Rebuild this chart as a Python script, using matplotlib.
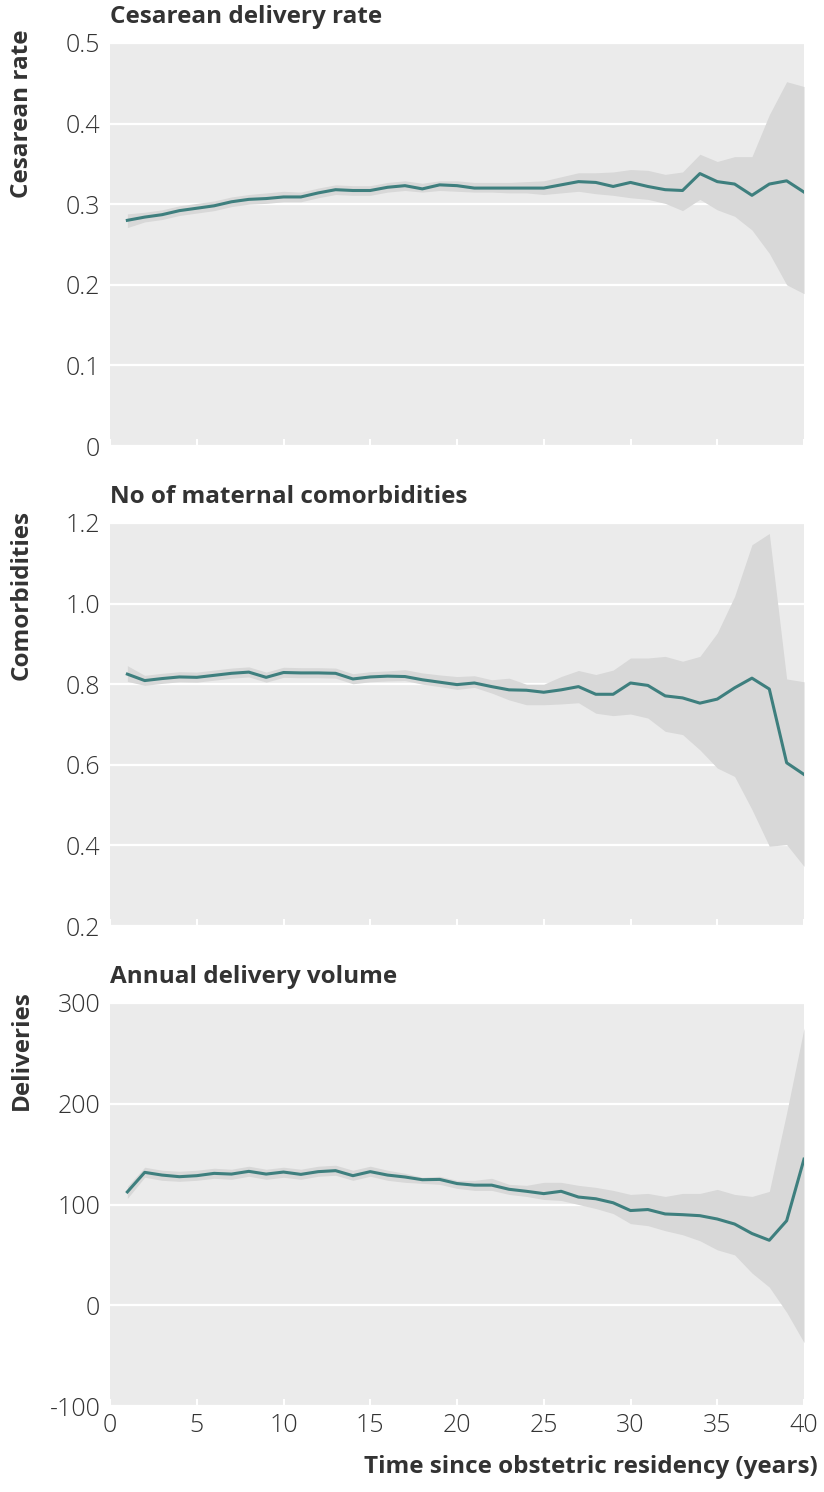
"""Cesarean rate, comorbidities and delivery volume by time since residency."""

import matplotlib.pyplot as plt
import numpy as np

plt.rcParams.update({'font.family': ['Open Sans', 'DejaVu Sans']})

years = np.arange(1, 41)

cesarean = [0.280, 0.284, 0.287, 0.292, 0.295, 0.298, 0.303, 0.306, 0.307, 0.309,
            0.309, 0.314, 0.318, 0.317, 0.317, 0.321, 0.323, 0.319, 0.324, 0.323,
            0.320, 0.320, 0.320, 0.320, 0.320, 0.324, 0.328, 0.327, 0.322, 0.327,
            0.322, 0.318, 0.317, 0.338, 0.328, 0.325, 0.311, 0.325, 0.329, 0.315]
cesarean_lo = [0.271, 0.278, 0.281, 0.286, 0.289, 0.292, 0.297, 0.300, 0.301, 0.303,
               0.303, 0.308, 0.312, 0.311, 0.311, 0.315, 0.317, 0.315, 0.317, 0.316,
               0.315, 0.315, 0.314, 0.314, 0.312, 0.314, 0.316, 0.313, 0.311, 0.308,
               0.306, 0.301, 0.292, 0.306, 0.293, 0.285, 0.268, 0.239, 0.200, 0.189]
cesarean_hi = [0.288, 0.290, 0.293, 0.298, 0.301, 0.304, 0.309, 0.312, 0.314, 0.316,
               0.315, 0.320, 0.324, 0.323, 0.323, 0.327, 0.329, 0.326, 0.329, 0.329,
               0.327, 0.327, 0.327, 0.328, 0.329, 0.334, 0.339, 0.339, 0.340, 0.343,
               0.342, 0.337, 0.340, 0.362, 0.353, 0.359, 0.359, 0.411, 0.452, 0.446]

comorb = [0.825, 0.809, 0.814, 0.818, 0.817, 0.822, 0.827, 0.830, 0.817, 0.829,
          0.828, 0.828, 0.827, 0.813, 0.818, 0.820, 0.819, 0.811, 0.805, 0.799,
          0.803, 0.794, 0.786, 0.785, 0.780, 0.786, 0.794, 0.775, 0.775, 0.803,
          0.797, 0.771, 0.766, 0.753, 0.763, 0.791, 0.815, 0.788, 0.605, 0.576]
comorb_lo = [0.807, 0.797, 0.802, 0.806, 0.805, 0.810, 0.815, 0.818, 0.805, 0.817,
             0.816, 0.816, 0.815, 0.801, 0.806, 0.808, 0.809, 0.800, 0.794, 0.787,
             0.792, 0.778, 0.761, 0.749, 0.749, 0.751, 0.754, 0.728, 0.722, 0.726,
             0.716, 0.683, 0.675, 0.637, 0.592, 0.571, 0.489, 0.398, 0.402, 0.348]
comorb_hi = [0.846, 0.822, 0.827, 0.831, 0.830, 0.835, 0.840, 0.843, 0.830, 0.842,
             0.841, 0.841, 0.840, 0.826, 0.831, 0.833, 0.836, 0.828, 0.823, 0.819,
             0.821, 0.811, 0.815, 0.800, 0.800, 0.819, 0.834, 0.824, 0.835, 0.865,
             0.865, 0.869, 0.857, 0.869, 0.927, 1.018, 1.146, 1.174, 0.813, 0.806]

volume = [112.5, 131.9, 129.2, 127.6, 128.6, 130.9, 130.2, 132.9, 130.2, 132.2,
          129.9, 132.6, 133.6, 128.6, 132.6, 129.2, 127.3, 124.6, 124.9, 120.8,
          119.2, 119.2, 115.1, 113.1, 110.8, 113.1, 107.4, 105.7, 101.7, 94.0,
          95.0, 90.6, 89.9, 88.9, 85.6, 80.6, 71.2, 64.5, 83.9, 145.0]
volume_lo = [106, 127, 124, 123, 124, 126, 125, 128, 125, 127,
             125, 128, 129, 124, 128, 124, 122, 121, 120, 116,
             114, 114, 110, 108, 105, 104, 100, 96, 91, 81,
             79, 74, 70, 64, 55, 50, 32, 18, -7, -37]
volume_hi = [118, 137, 134, 133, 134, 136, 135, 138, 135, 137,
             135, 138, 139, 134, 138, 134, 131, 127, 128, 124,
             124, 126, 120, 119, 122, 122, 119, 117, 114, 110,
             111, 108, 111, 111, 115, 110, 108, 113, 191, 275]

titles = ['Cesarean delivery rate', 'No of maternal comorbidities', 'Annual delivery volume']
ylabels = ['Cesarean rate', 'Comorbidities', 'Deliveries']
yticks = [[0, 0.1, 0.2, 0.3, 0.4, 0.5], [0.2, 0.4, 0.6, 0.8, 1.0, 1.2], [-100, 0, 100, 200, 300]]
yticklabels = [['0', '0.1', '0.2', '0.3', '0.4', '0.5'],
               ['0.2', '0.4', '0.6', '0.8', '1.0', '1.2'],
               ['-100', '0', '100', '200', '300']]
xticks = [0, 5, 10, 15, 20, 25, 30, 35, 40]

series = [(cesarean, cesarean_lo, cesarean_hi),
          (comorb, comorb_lo, comorb_hi),
          (volume, volume_lo, volume_hi)]

line_color = '#3e7f7e'
band_color = '#d8d8d8'
bg_color = '#ebebeb'
text_color = '#333333'

W, H = 824, 1492
fig = plt.figure(figsize=(W / 100, H / 100), dpi=100)
tops = [43, 523, 1003]
ax_h = 403
left, right = 110, 804

for i in range(3):
    ax = fig.add_axes([left / W, 1 - (tops[i] + ax_h) / H, (right - left) / W, ax_h / H])
    ax.set_facecolor(bg_color)
    ax.set_axisbelow(True)
    mean, lo, hi = series[i]
    ax.fill_between(years, lo, hi, color=band_color, linewidth=0, zorder=1)
    ax.plot(years, mean, color=line_color, linewidth=2.2, zorder=2)
    ax.set_xlim(0, 40)
    ax.set_ylim(yticks[i][0], yticks[i][-1])
    ax.set_yticks(yticks[i])
    ax.set_yticklabels(yticklabels[i])
    ax.set_xticks(xticks)
    ax.grid(axis='y', color='white', linewidth=1.6)
    for s in ax.spines.values():
        s.set_visible(False)
    ax.tick_params(axis='y', length=0, pad=7, labelsize=18, labelcolor=text_color)
    ax.tick_params(axis='x', direction='in', length=5, width=1.5, color='white',
                   labelsize=18, labelcolor=text_color, pad=5)
    for lab in ax.get_yticklabels() + ax.get_xticklabels():
        lab.set_fontweight('light')
    if i < 2:
        ax.tick_params(axis='x', labelbottom=False)
    fig.text(left / W, 1 - (tops[i] - 26) / H, titles[i], fontsize=17.5, fontweight='bold',
             color=text_color, ha='left', va='center')
    fig.text(22 / W, 1 - (tops[i] - 13) / H, ylabels[i], fontsize=17.5, fontweight='bold',
             color=text_color, rotation=90, ha='center', va='top')

fig.text(818 / W, 1 - 1467 / H, 'Time since obstetric residency (years)', fontsize=17.5,
         fontweight='bold', color=text_color, ha='right', va='center')

plt.savefig('out.png', dpi=100)
